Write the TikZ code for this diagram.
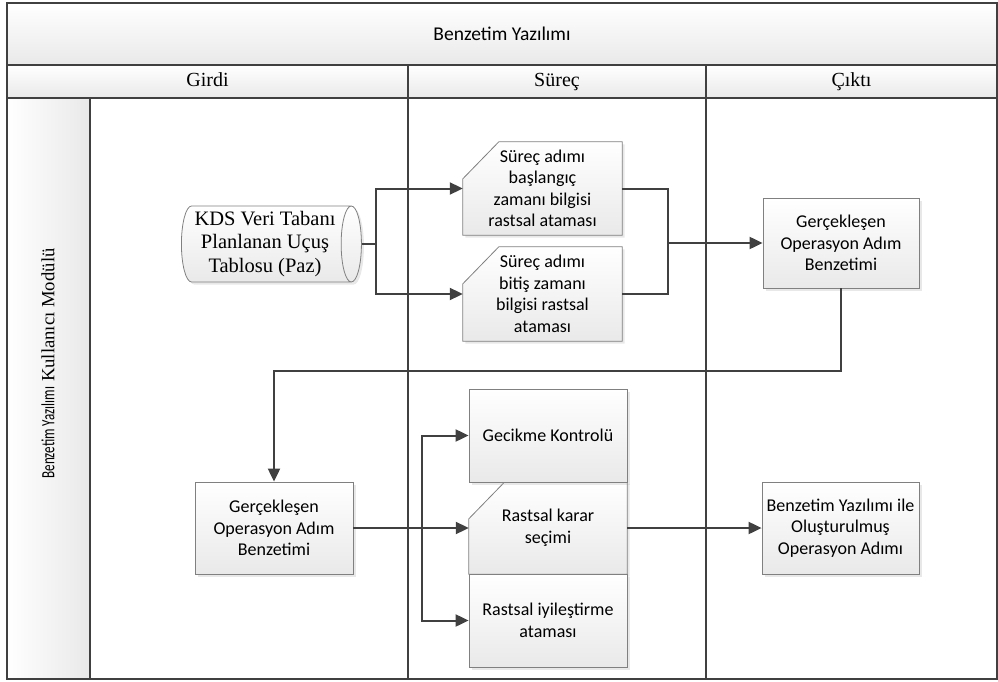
\documentclass[tikz,border=0pt]{standalone}
\usepackage{graphicx}
\usepackage{fontspec}
\setmainfont{Liberation Serif}
\newfontfamily\boxfont{Carlito}
\usetikzlibrary{arrows.meta,positioning,shapes.geometric,shadows,backgrounds}
\definecolor{LaneInk}{HTML}{404040}
\definecolor{BoxEdge}{HTML}{808080}
\definecolor{BoxShade}{HTML}{E9E9E9}
\newcommand{\BoxFontSize}{\fontsize{18}{21.5}\selectfont}
% shaded outline with the cut top-left corner, drawn behind a text node
\newcommand{\CutBox}[1]{%
  \shade[cutedge] ([yshift=-37pt]#1.north west) -- ([xshift=36pt]#1.north west)
    -- (#1.north east) -- (#1.south east) -- (#1.south west) -- cycle;%
}
\tikzset{
  chart/.style={x=1pt,y=-1pt,text=black},
  lane/.style={draw=LaneInk,line width=1.3pt},
  band/.style={lane,top color=white,bottom color=BoxShade},
  headtext/.style={font=\fontsize{20}{24}\selectfont,text height=14pt,text depth=4pt},
  stepbox/.style={draw=BoxEdge,line width=0.8pt,top color=white,bottom color=BoxShade,
    drop shadow={shadow xshift=2.5pt,shadow yshift=-2.5pt,opacity=0.18},
    font=\boxfont\BoxFontSize,align=center,inner sep=2pt},
  cuttext/.style={font=\boxfont\BoxFontSize,align=center,inner sep=2pt},
  cutedge/.style={draw=BoxEdge,line width=0.8pt,top color=white,bottom color=BoxShade,
    drop shadow={shadow xshift=2.5pt,shadow yshift=-2.5pt,opacity=0.18}},
  store/.style={cylinder,aspect=0.3,draw=BoxEdge,line width=0.8pt,
    top color=white,bottom color=BoxShade,
    drop shadow={shadow xshift=2.5pt,shadow yshift=-2.5pt,opacity=0.18},
    font=\fontsize{20.5}{23.5}\selectfont,align=center,inner sep=1pt},
  link/.style={line width=2pt,draw=LaneInk},
  flow/.style={link,-{Triangle[length=13pt,width=12pt]}},
}

\begin{document}
\begin{tikzpicture}[chart]
  \useasboundingbox (0,0) rectangle (998,682);

  % swimlane frame
  \draw[band] (7,3) rectangle (997,65);
  \draw[band] (7,65) rectangle (997,98);
  \draw[lane,left color=white,right color=BoxShade] (7,98) rectangle (90,679);
  \draw[lane] (7,3) rectangle (997,679);
  \draw[lane] (408,65) -- (408,679);
  \draw[lane] (706,65) -- (706,679);

  \node[font=\boxfont\fontsize{19.5}{23}\selectfont] (title) at (502,34) {Benzetim Yazılımı};
  \node[headtext] (girdi) at (207.5,82) {Girdi};
  \node[headtext] (surec) at (557,82) {Süreç};
  \node[headtext] (cikti) at (851.5,82) {Çıktı};
  \node[rotate=90,font=\fontsize{18.7}{22}\selectfont] (modul) at (48,363.5)
    {{\boxfont\scalebox{0.7}[1]{Benzetim Yazılımı}} Kullanıcı Modülü};

  % upper flow
  \node[store,minimum height=180pt,minimum width=76pt] (kds) at (265,244)
    {KDS Veri Tabanı\\Planlanan Uçuş\\Tablosu (Paz)};
  \node[cuttext,minimum width=159pt,minimum height=93pt] (basla) at (542.5,188.5)
    {Süreç adımı\\başlangıç\\zamanı bilgisi\\rastsal ataması};
  \node[cuttext,minimum width=159pt,minimum height=94pt] (bitis) at (542.5,294)
    {Süreç adımı\\bitiş zamanı\\bilgisi rastsal\\ataması};
  \node[stepbox,minimum width=156pt,minimum height=90pt] (gercekA) at (841,243)
    {Gerçekleşen\\Operasyon Adım\\Benzetimi};

  % lower flow
  \node[stepbox,minimum width=158pt,minimum height=92pt] (gercekB) at (274,528)
    {Gerçekleşen\\Operasyon Adım\\Benzetimi};
  \node[stepbox,minimum width=158pt,minimum height=93pt] (gecikme) at (548,435.5)
    {Gecikme Kontrolü};
  \node[cuttext,minimum width=158pt,minimum height=92pt] (karar) at (548,528)
    {Rastsal karar\\seçimi};
  \node[stepbox,minimum width=158pt,minimum height=93pt] (iyiles) at (548,620.5)
    {Rastsal iyileştirme\\ataması};
  \node[stepbox,minimum width=157pt,minimum height=92pt] (sonuc) at (840.5,528)
    {Benzetim Yazılımı ile\\Oluşturulmuş\\Operasyon Adımı};

  \begin{pgfonlayer}{background}
    \CutBox{basla}
    \CutBox{bitis}
    \CutBox{karar}
  \end{pgfonlayer}

  \coordinate (merge) at (668,243);
  \coordinate (fan) at (422,528);

  \draw[flow] (kds.east) -- ++(14,0) |- (basla.west);
  \draw[flow] (kds.east) -- ++(14,0) |- (bitis.west);
  \draw[link] (basla.east) -| (merge) |- (bitis.east);
  \draw[flow] (merge) -- (gercekA.west);
  \draw[flow] (gercekA.south) -- ++(0,83) -| (gercekB.north);
  \draw[flow] (gercekB.east) -- (karar.west);
  \draw[flow] (fan) |- (gecikme.west);
  \draw[flow] (fan) |- (iyiles.west);
  \draw[flow] (karar.east) -- (sonuc.west);
\end{tikzpicture}
\end{document}
